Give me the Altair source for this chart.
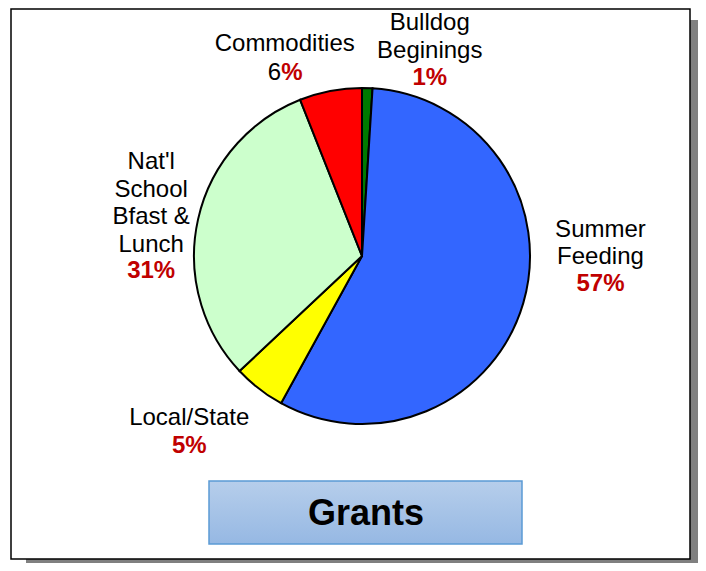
import altair as alt
import pandas as pd

# ---- data ----
categories = ["Bulldog Beginings", "Summer Feeding", "Local/State",
              "Nat'l School Bfast & Lunch", "Commodities"]
values = [1, 57, 5, 31, 6]
order = [0, 1, 2, 3, 4]
label_names = ["Bulldog\nBeginings", "Summer\nFeeding", "Local/State",
               "Nat'l\nSchool\nBfast &\nLunch", "Commodities"]
pct_labels = ["1%", "57%", "5%", "31%", "6%"]
title_text = "Grants"

colors = ["#007A00", "#3366FF", "#FFFF00", "#CCFFCC", "#FF0000"]

df = pd.DataFrame({"cat": categories, "value": values, "order": order,
                   "name": label_names, "pct": pct_labels})

W, H = 690, 555
CX, CY = 354, 248
FONT = "Liberation Sans"
PCT_RED = "#C00000"

theta_scale = alt.Scale(domain=[0, 100])
one = pd.DataFrame({"k": [0]})

# decorations: shadow, frame
shadow = alt.Chart(one).mark_rect(fill="#808080").encode(
    x=alt.value(18), x2=alt.value(700), y=alt.value(12), y2=alt.value(570))
frame = alt.Chart(one).mark_rect(fill="white", stroke="black", strokeWidth=1.5).encode(
    x=alt.value(3), x2=alt.value(682), y=alt.value(1), y2=alt.value(551))

pie = alt.Chart(df).mark_arc(outerRadius=168, stroke="black", strokeWidth=2).encode(
    theta=alt.Theta("value:Q", stack=True, scale=theta_scale),
    order=alt.Order("order:Q"),
    color=alt.Color("cat:N", scale=alt.Scale(domain=categories, range=colors), legend=None),
    x=alt.value(CX), y=alt.value(CY),
)

base = alt.Chart(df).transform_window(
    cum="sum(value)", sort=[alt.SortField("order")]
).transform_calculate(mid="datum.cum - datum.value / 2")

enc = dict(theta=alt.Theta("mid:Q", stack=None, scale=theta_scale),
           radius=alt.value(215), x=alt.value(CX), y=alt.value(CY))

# label nudges (style offsets from the mid-slice anchor)
nudges = {
    "Bulldog Beginings": (61, -11, 44),
    "Summer Feeding": (32, -79, -25),
    "Local/State": (-41, -1, 27),
    "Nat'l School Bfast & Lunch": (-1, -40, 69),
    "Commodities": (-37, 6, 35),
}

layers = [shadow, frame, pie]
for cat, (dx, dy, pdy) in nudges.items():
    sub = base.transform_filter(alt.datum.cat == cat)
    layers.append(sub.mark_text(font=FONT, fontSize=24, color="black", align="center",
                                baseline="alphabetic", lineBreak="\n", lineHeight=27.5,
                                dx=dx, dy=dy).encode(text="name:N", **enc))
    if cat == "Commodities":
        layers.append(sub.mark_text(font=FONT, fontSize=24, color="black", align="left",
                                    baseline="alphabetic", dx=-54, dy=pdy).encode(
            text=alt.value("6"), **enc))
        layers.append(sub.mark_text(font=FONT, fontSize=24, fontWeight="bold", color=PCT_RED,
                                    align="left", baseline="alphabetic", dx=-40.5, dy=pdy).encode(
            text=alt.value("%"), **enc))
    else:
        layers.append(sub.mark_text(font=FONT, fontSize=24, fontWeight="bold", color=PCT_RED,
                                    align="center", baseline="alphabetic", dx=dx, dy=pdy).encode(
            text="pct:N", **enc))

grad = alt.LinearGradient(gradient="linear",
                          stops=[alt.GradientStop(color="#B6CEEB", offset=0),
                                 alt.GradientStop(color="#96B8E3", offset=1)],
                          x1=0, x2=0, y1=0, y2=1)
box = alt.Chart(one).mark_rect(fill=grad, stroke="#5B9BD5", strokeWidth=1.5).encode(
    x=alt.value(201), x2=alt.value(514), y=alt.value(473), y2=alt.value(536))
box_text = alt.Chart(one).mark_text(font=FONT, fontSize=36, fontWeight="bold", color="black",
                                    align="center", baseline="alphabetic").encode(
    x=alt.value(358), y=alt.value(517), text=alt.value(title_text))
layers += [box, box_text]

chart = alt.layer(*layers).properties(
    width=W, height=H, padding=0, autosize=alt.AutoSizeParams(type="none"),
    background="white"
).configure_view(strokeWidth=0)

chart.save("out.html", embed_options={"renderer": "svg", "actions": False})
